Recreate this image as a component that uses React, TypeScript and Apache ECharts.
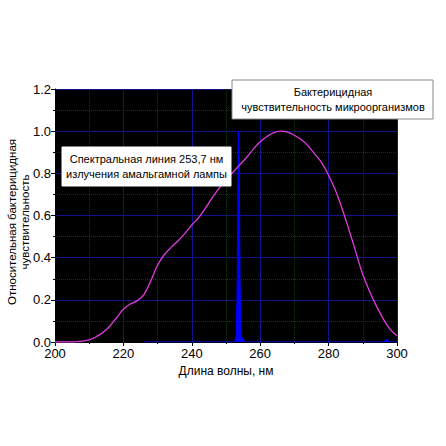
import React, { useEffect, useRef } from 'react';
import * as echarts from 'echarts';

// bactericidal sensitivity curve
const wavelengths = [200, 202, 204, 206, 208, 210, 212, 214, 216, 218, 220, 222, 224, 226, 228, 230, 232, 234, 236, 238, 240, 242, 244, 246, 248, 250, 252, 254, 256, 258, 260, 262, 264, 266, 268, 270, 272, 274, 276, 278, 280, 282, 284, 286, 288, 290, 292, 294, 296, 298, 300];
const sensitivity = [0, 0, 0, 0.001, 0.004, 0.01, 0.025, 0.045, 0.075, 0.115, 0.155, 0.18, 0.195, 0.225, 0.29, 0.365, 0.415, 0.45, 0.48, 0.515, 0.555, 0.59, 0.635, 0.685, 0.73, 0.77, 0.805, 0.84, 0.875, 0.915, 0.95, 0.975, 0.993, 1.0, 0.995, 0.98, 0.96, 0.93, 0.89, 0.85, 0.79, 0.72, 0.63, 0.53, 0.425, 0.32, 0.24, 0.17, 0.11, 0.06, 0.03];

// lamp emission line
const lampWavelengths = [226, 250, 252.5, 253, 253.3, 253.55, 253.7, 253.85, 254.1, 254.4, 255.5, 280, 296, 297, 298, 300];
const lampIntensity = [0, 0, 0, 0.03, 0.3, 0.9, 1.0, 0.9, 0.3, 0.03, 0, 0, 0, 0.012, 0, 0];

const xTicks = { min: 200, max: 300, interval: 20 };
const yTicks = { min: 0, max: 1.2, interval: 0.2 };

const App: React.FC = () => {
  const chartRef = useRef<HTMLDivElement>(null);

  useEffect(() => {
    if (!chartRef.current) return;
    const chart = echarts.init(chartRef.current, undefined, { renderer: 'svg' });
    const font = 'Liberation Sans, Arial, sans-serif';
    const gridLine = { show: true, lineStyle: { color: '#12128c', width: 1 } };
    const minorLine = { show: true, lineStyle: { color: '#0c3c0c', width: 1, type: 'dotted' as const } };

    chart.setOption({
      animation: false,
      backgroundColor: '#fff',
      grid: { left: 55, top: 89, right: 49, bottom: 104, show: true, backgroundColor: '#000', borderWidth: 0 },
      xAxis: {
        type: 'value',
        ...xTicks,
        name: 'Длина волны, нм',
        nameLocation: 'middle',
        nameGap: 22,
        nameTextStyle: { color: '#000', fontSize: 12, fontFamily: font },
        axisLine: { show: true, lineStyle: { color: '#000' } },
        axisTick: { show: true, length: 4, lineStyle: { color: '#000' } },
        minorTick: { show: true, splitNumber: 2, length: 2, lineStyle: { color: '#000' } },
        axisLabel: { color: '#000', fontSize: 13, fontFamily: font, margin: 5 },
        splitLine: gridLine,
        minorSplitLine: minorLine,
      },
      yAxis: {
        type: 'value',
        ...yTicks,
        axisLine: { show: true, lineStyle: { color: '#000' } },
        axisTick: { show: true, length: 4, lineStyle: { color: '#000' } },
        minorTick: { show: true, splitNumber: 2, length: 2, lineStyle: { color: '#000' } },
        axisLabel: { color: '#000', fontSize: 13, fontFamily: font, margin: 4, formatter: (v: number) => v.toFixed(1) },
        splitLine: gridLine,
        minorSplitLine: minorLine,
      },
      graphic: [
        {
          type: 'text',
          x: 18,
          y: 222,
          rotation: Math.PI / 2,
          z: 100,
          style: {
            text: 'Относительная бактерицидная\nчувствительность',
            fill: '#000',
            font: `11.5px ${font}`,
            align: 'center',
            verticalAlign: 'middle',
            lineHeight: 13,
          },
        },
        {
          type: 'group',
          x: 62,
          y: 147,
          z: 100,
          children: [
            { type: 'rect', z: 100, shape: { x: 0, y: 0, width: 169, height: 39 }, style: { fill: '#fff', stroke: '#fff' } },
            {
              type: 'text',
              z: 101,
              x: 84.5,
              y: 19.5,
              style: {
                text: 'Спектральная линия 253,7 нм\nизлучения амальгамной лампы',
                fill: '#000',
                font: `11px ${font}`,
                align: 'center',
                verticalAlign: 'middle',
                lineHeight: 15,
              },
            },
          ],
        },
        {
          type: 'group',
          x: 232,
          y: 80,
          z: 100,
          children: [
            { type: 'rect', z: 100, shape: { x: 0, y: 0, width: 201, height: 39 }, style: { fill: '#fff', stroke: '#888', lineWidth: 1 } },
            {
              type: 'text',
              z: 101,
              x: 101,
              y: 19.5,
              style: {
                text: 'Бактерицидная\nчувствительность микроорганизмов',
                fill: '#000',
                font: `11px ${font}`,
                align: 'center',
                verticalAlign: 'middle',
                lineHeight: 15,
              },
            },
          ],
        },
      ],
      series: [
        {
          type: 'line',
          data: lampWavelengths.map((x, i) => [x, lampIntensity[i]]),
          showSymbol: false,
          lineStyle: { color: '#0000ff', width: 1 },
          areaStyle: { color: '#0000ff', opacity: 1 },
          z: 2,
        },
        {
          type: 'line',
          data: wavelengths.map((x, i) => [x, sensitivity[i]]),
          smooth: 0.4,
          showSymbol: false,
          lineStyle: { color: '#e03ce0', width: 1.3 },
          z: 3,
        },
      ],
    });
    return () => { chart.dispose(); };
  }, []);

  return <div ref={chartRef} style={{ position: 'fixed', left: 0, top: 0, width: 446, height: 446 }} />;
};

export default App;
